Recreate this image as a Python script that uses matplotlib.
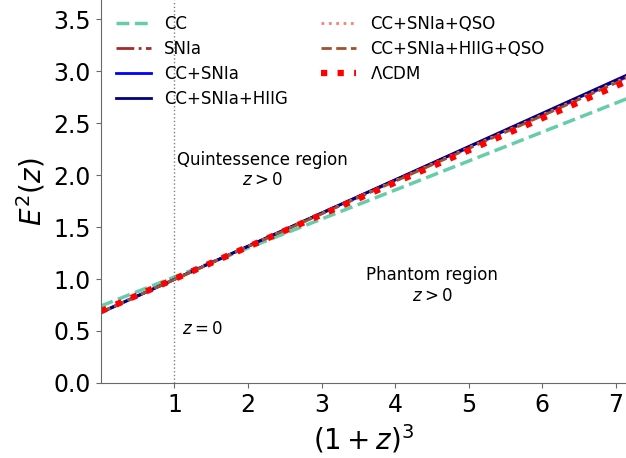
import matplotlib
matplotlib.use("Agg")
import matplotlib.pyplot as plt

# straight lines in (1+z)^3, read at the two ends of the axis
x_ends = [0.0, 7.2]
cc = [0.74, 2.75]
snia = [0.68, 2.96]
cc_snia = [0.68, 2.97]
cc_snia_hiig = [0.675, 2.98]
cc_snia_qso = [0.68, 2.96]
cc_snia_hiig_qso = [0.68, 2.95]
lcdm = [0.69, 2.92]

fig = plt.figure(figsize=(6.26, 4.58), dpi=100)
ax = fig.add_axes([0.161, 0.164, 0.839, 0.836])

ax.plot(x_ends, cc, color="mediumaquamarine", ls="--", lw=2.5, label="CC")
ax.plot(x_ends, snia, color="brown", ls="-.", lw=2, label="SNIa")
ax.plot(x_ends, cc_snia, color="blue", ls="-", lw=2, label="CC+SNIa")
ax.plot(x_ends, cc_snia_hiig, color="navy", ls="-", lw=2, label="CC+SNIa+HIIG")
ax.plot(x_ends, cc_snia_qso, color="salmon", ls=":", lw=2, label="CC+SNIa+QSO")
ax.plot(x_ends, cc_snia_hiig_qso, color="sienna", ls="--", lw=2, label="CC+SNIa+HIIG+QSO")
ax.plot(x_ends, lcdm, color="red", ls=":", lw=4.5, label=r"$\Lambda$CDM")

ax.axvline(1, color="gray", ls=":", lw=1)

ax.text(2.2, 2.05, "Quintessence region\n$z>0$", ha="center", va="center", fontsize=12)
ax.text(4.5, 0.94, "Phantom region\n$z>0$", ha="center", va="center", fontsize=12)
ax.text(1.38, 0.52, "$z=0$", ha="center", va="center", fontsize=12)

ax.set_xlim(0, 7.137)
ax.set_ylim(0, 3.686)
ax.set_xticks([1, 2, 3, 4, 5, 6, 7])
ax.set_yticks([0.0, 0.5, 1.0, 1.5, 2.0, 2.5, 3.0, 3.5])
ax.tick_params(labelsize=17, color="dimgray")
ax.set_xlabel(r"$(1+z)^3$", fontsize=20)
ax.set_ylabel(r"$E^2(z)$", fontsize=20)
for s in ["top", "right"]:
    ax.spines[s].set_visible(False)
for s in ["left", "bottom"]:
    ax.spines[s].set_color("dimgray")

ax.legend(loc="upper left", ncol=2, frameon=False, fontsize=12,
          handlelength=2.1, labelspacing=0.42)

fig.savefig("out.png", dpi=100)
